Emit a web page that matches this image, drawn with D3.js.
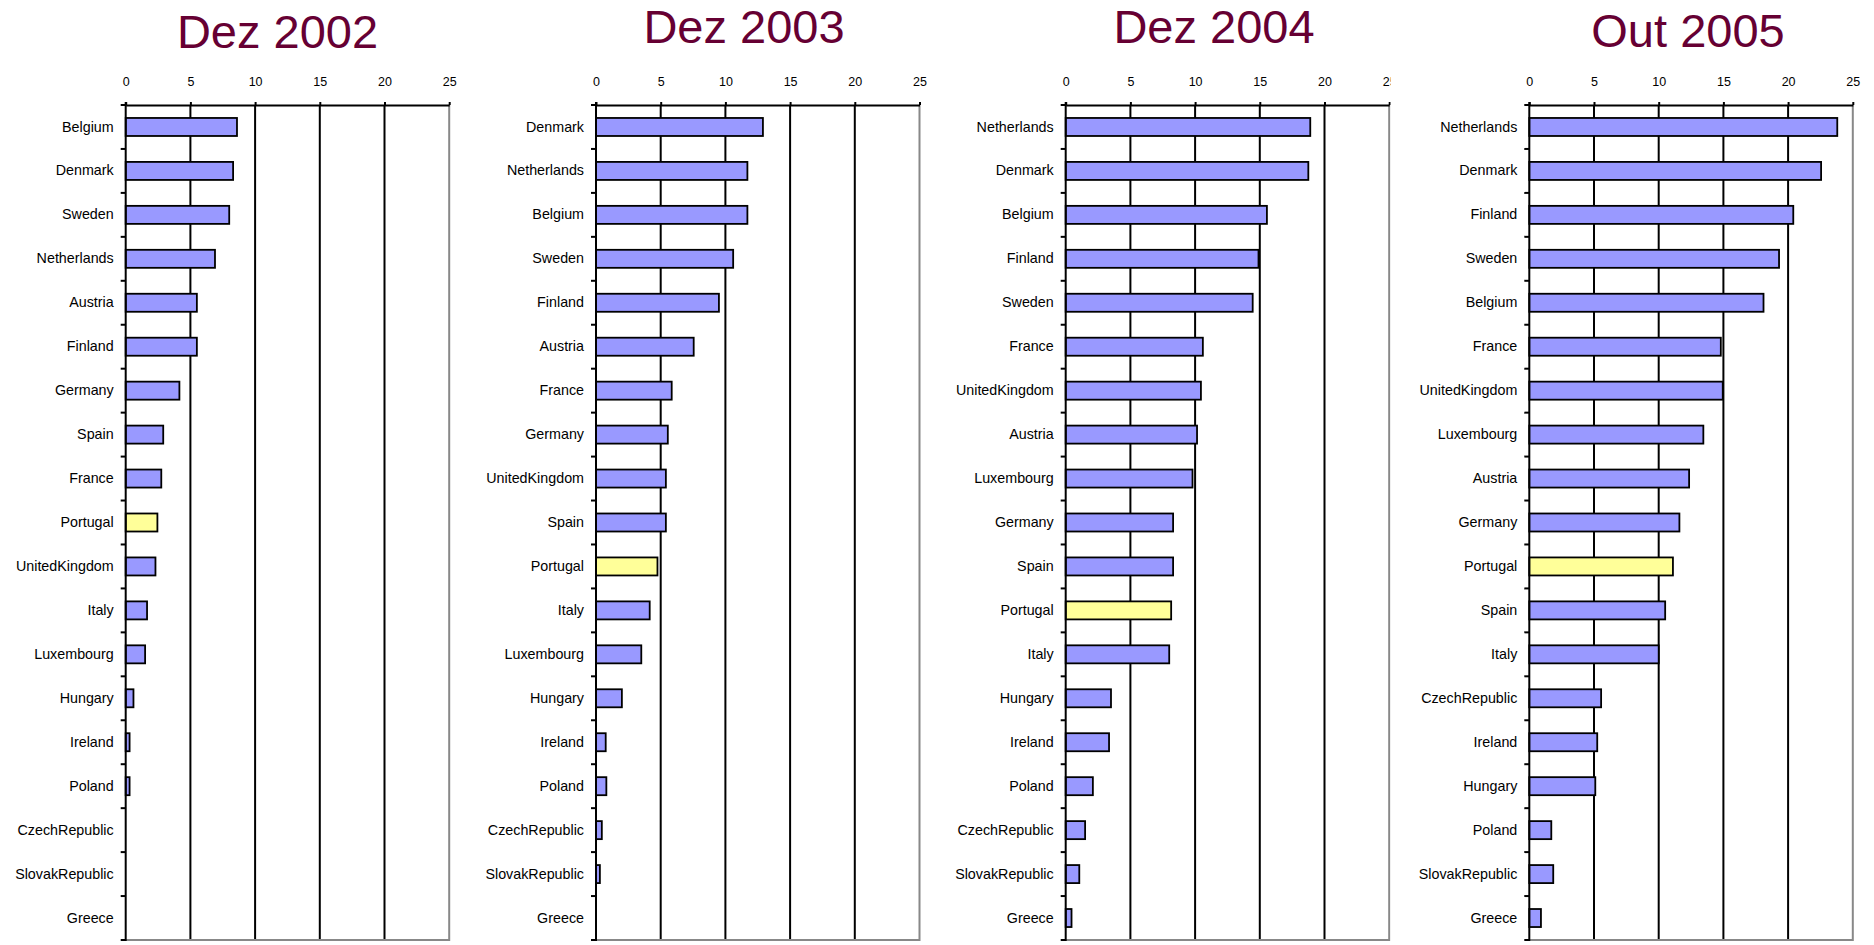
<!DOCTYPE html>
<html lang="pt">
<head>
  <meta charset="UTF-8" />
  <title>Dez 2002 - Out 2005</title>
  <style>
    body { margin: 0; background: #fff; }
    svg { display: block; font-family: "Liberation Sans", Arial, sans-serif; }
  </style>
</head>
<body>
  <script src="https://d3js.org/d3.v7.min.js"></script>
  <script>
    // Daten pro Zeitpunkt (sortiert wie im Bild)
    const titles = ['Dez 2002', 'Dez 2003', 'Dez 2004', 'Out 2005'];

    const categories2002 = ['Belgium', 'Denmark', 'Sweden', 'Netherlands', 'Austria', 'Finland', 'Germany', 'Spain', 'France', 'Portugal', 'UnitedKingdom', 'Italy', 'Luxembourg', 'Hungary', 'Ireland', 'Poland', 'CzechRepublic', 'SlovakRepublic', 'Greece'];
    const values2002 = [8.6, 8.3, 8.0, 6.9, 5.5, 5.5, 4.15, 2.9, 2.75, 2.45, 2.3, 1.65, 1.5, 0.6, 0.3, 0.3, 0, 0, 0];

    const categories2003 = ['Denmark', 'Netherlands', 'Belgium', 'Sweden', 'Finland', 'Austria', 'France', 'Germany', 'UnitedKingdom', 'Spain', 'Portugal', 'Italy', 'Luxembourg', 'Hungary', 'Ireland', 'Poland', 'CzechRepublic', 'SlovakRepublic', 'Greece'];
    const values2003 = [12.9, 11.7, 11.7, 10.6, 9.5, 7.55, 5.85, 5.55, 5.4, 5.4, 4.75, 4.15, 3.5, 2.0, 0.75, 0.8, 0.45, 0.3, 0];

    const categories2004 = ['Netherlands', 'Denmark', 'Belgium', 'Finland', 'Sweden', 'France', 'UnitedKingdom', 'Austria', 'Luxembourg', 'Germany', 'Spain', 'Portugal', 'Italy', 'Hungary', 'Ireland', 'Poland', 'CzechRepublic', 'SlovakRepublic', 'Greece'];
    const values2004 = [18.9, 18.75, 15.55, 14.9, 14.45, 10.6, 10.45, 10.15, 9.8, 8.3, 8.3, 8.15, 8.0, 3.5, 3.35, 2.1, 1.5, 1.05, 0.45];

    const categories2005 = ['Netherlands', 'Denmark', 'Finland', 'Sweden', 'Belgium', 'France', 'UnitedKingdom', 'Luxembourg', 'Austria', 'Germany', 'Portugal', 'Spain', 'Italy', 'CzechRepublic', 'Ireland', 'Hungary', 'Poland', 'SlovakRepublic', 'Greece'];
    const values2005 = [23.8, 22.55, 20.4, 19.3, 18.1, 14.8, 14.95, 13.45, 12.35, 11.6, 11.1, 10.5, 10.0, 5.55, 5.25, 5.1, 1.7, 1.85, 0.9];

    const xTicks = [0, 5, 10, 15, 20, 25];
    const highlight = 'Portugal';

    const allCategories = [categories2002, categories2003, categories2004, categories2005];
    const allValues = [values2002, values2003, values2004, values2005];

    // Layout der vier Panels
    const panelLeft = [125.7, 596, 1065.7, 1529.3];
    const titleX = [277.5, 744, 1214, 1688];
    const titleY = [48, 43, 43, 47];
    const plotW = 323.5;
    const plotTop = 105, plotBottom = 940;

    const svg = d3.select('body').append('svg')
      .attr('width', 1874)
      .attr('height', 945);

    // Panel 3 ist im Original rechts abgeschnitten
    svg.append('defs').append('clipPath')
      .attr('id', 'clip3')
      .append('rect')
      .attr('x', 0).attr('y', 0)
      .attr('width', panelLeft[2] + plotW + 1.5).attr('height', 945);

    titles.forEach((title, i) => {
      const cats = allCategories[i];
      const vals = allValues[i];
      const data = cats.map((c, j) => ({ name: c, value: vals[j] }));

      const g = svg.append('g');
      if (i === 2) g.attr('clip-path', 'url(#clip3)');

      const x = d3.scaleLinear().domain([0, 25]).range([panelLeft[i], panelLeft[i] + plotW]);
      const y = d3.scaleBand().domain(cats).range([plotTop, plotBottom])
        .paddingInner(0.59).paddingOuter(0.295);

      g.append('text')
        .attr('x', titleX[i])
        .attr('y', titleY[i])
        .attr('text-anchor', 'middle')
        .attr('font-size', '47px')
        .attr('fill', '#660033')
        .text(title);

      // Gitterlinien
      g.append('g')
        .selectAll('line')
        .data(xTicks.filter(t => t > 0 && t < 25))
        .enter().append('line')
        .attr('x1', d => x(d)).attr('x2', d => x(d))
        .attr('y1', plotTop).attr('y2', plotBottom)
        .attr('stroke', '#000')
        .attr('stroke-width', 2);

      // Rahmen rechts und unten (grau)
      g.append('path')
        .attr('d', `M${x(25)},${plotTop}V${plotBottom}H${x(0)}`)
        .attr('fill', 'none')
        .attr('stroke', '#888')
        .attr('stroke-width', 2);

      // Balken
      g.append('g')
        .selectAll('rect')
        .data(data.filter(d => d.value > 0))
        .enter().append('rect')
        .attr('x', x(0))
        .attr('y', d => y(d.name))
        .attr('width', d => x(d.value) - x(0))
        .attr('height', y.bandwidth())
        .attr('fill', d => d.name === highlight ? '#FFFF99' : '#9999FF')
        .attr('stroke', '#000')
        .attr('stroke-width', 1.8);

      // Obere Achse
      const xAxis = g.append('g')
        .attr('transform', `translate(0,${plotTop})`)
        .call(d3.axisTop(x).tickValues(xTicks).tickSize(3).tickPadding(16).tickSizeOuter(0));
      xAxis.select('.domain').attr('stroke', '#000').attr('stroke-width', 2);
      xAxis.selectAll('.tick line').attr('stroke', '#000').attr('stroke-width', 2);
      xAxis.selectAll('.tick text')
        .attr('font-size', '12.5px')
        .attr('font-family', '"Liberation Sans", Arial, sans-serif')
        .attr('fill', '#000');

      // Linke Achse: Beschriftung mittig, Striche an den Grenzen
      const yAxis = g.append('g')
        .attr('transform', `translate(${x(0)},0)`)
        .call(d3.axisLeft(y).tickSize(0).tickPadding(12).tickSizeOuter(0));
      yAxis.select('.domain').remove();
      yAxis.selectAll('.tick text')
        .attr('font-size', '14.3px')
        .attr('font-family', '"Liberation Sans", Arial, sans-serif')
        .attr('fill', '#000');

      g.append('g')
        .selectAll('line')
        .data(d3.range(cats.length + 1))
        .enter().append('line')
        .attr('x1', x(0) - 5).attr('x2', x(0))
        .attr('y1', d => plotTop + d * y.step())
        .attr('y2', d => plotTop + d * y.step())
        .attr('stroke', '#000')
        .attr('stroke-width', 2);

      g.append('line')
        .attr('x1', x(0)).attr('x2', x(0))
        .attr('y1', plotTop - 3).attr('y2', plotBottom + 1)
        .attr('stroke', '#000')
        .attr('stroke-width', 2);
    });
  </script>
</body>
</html>
